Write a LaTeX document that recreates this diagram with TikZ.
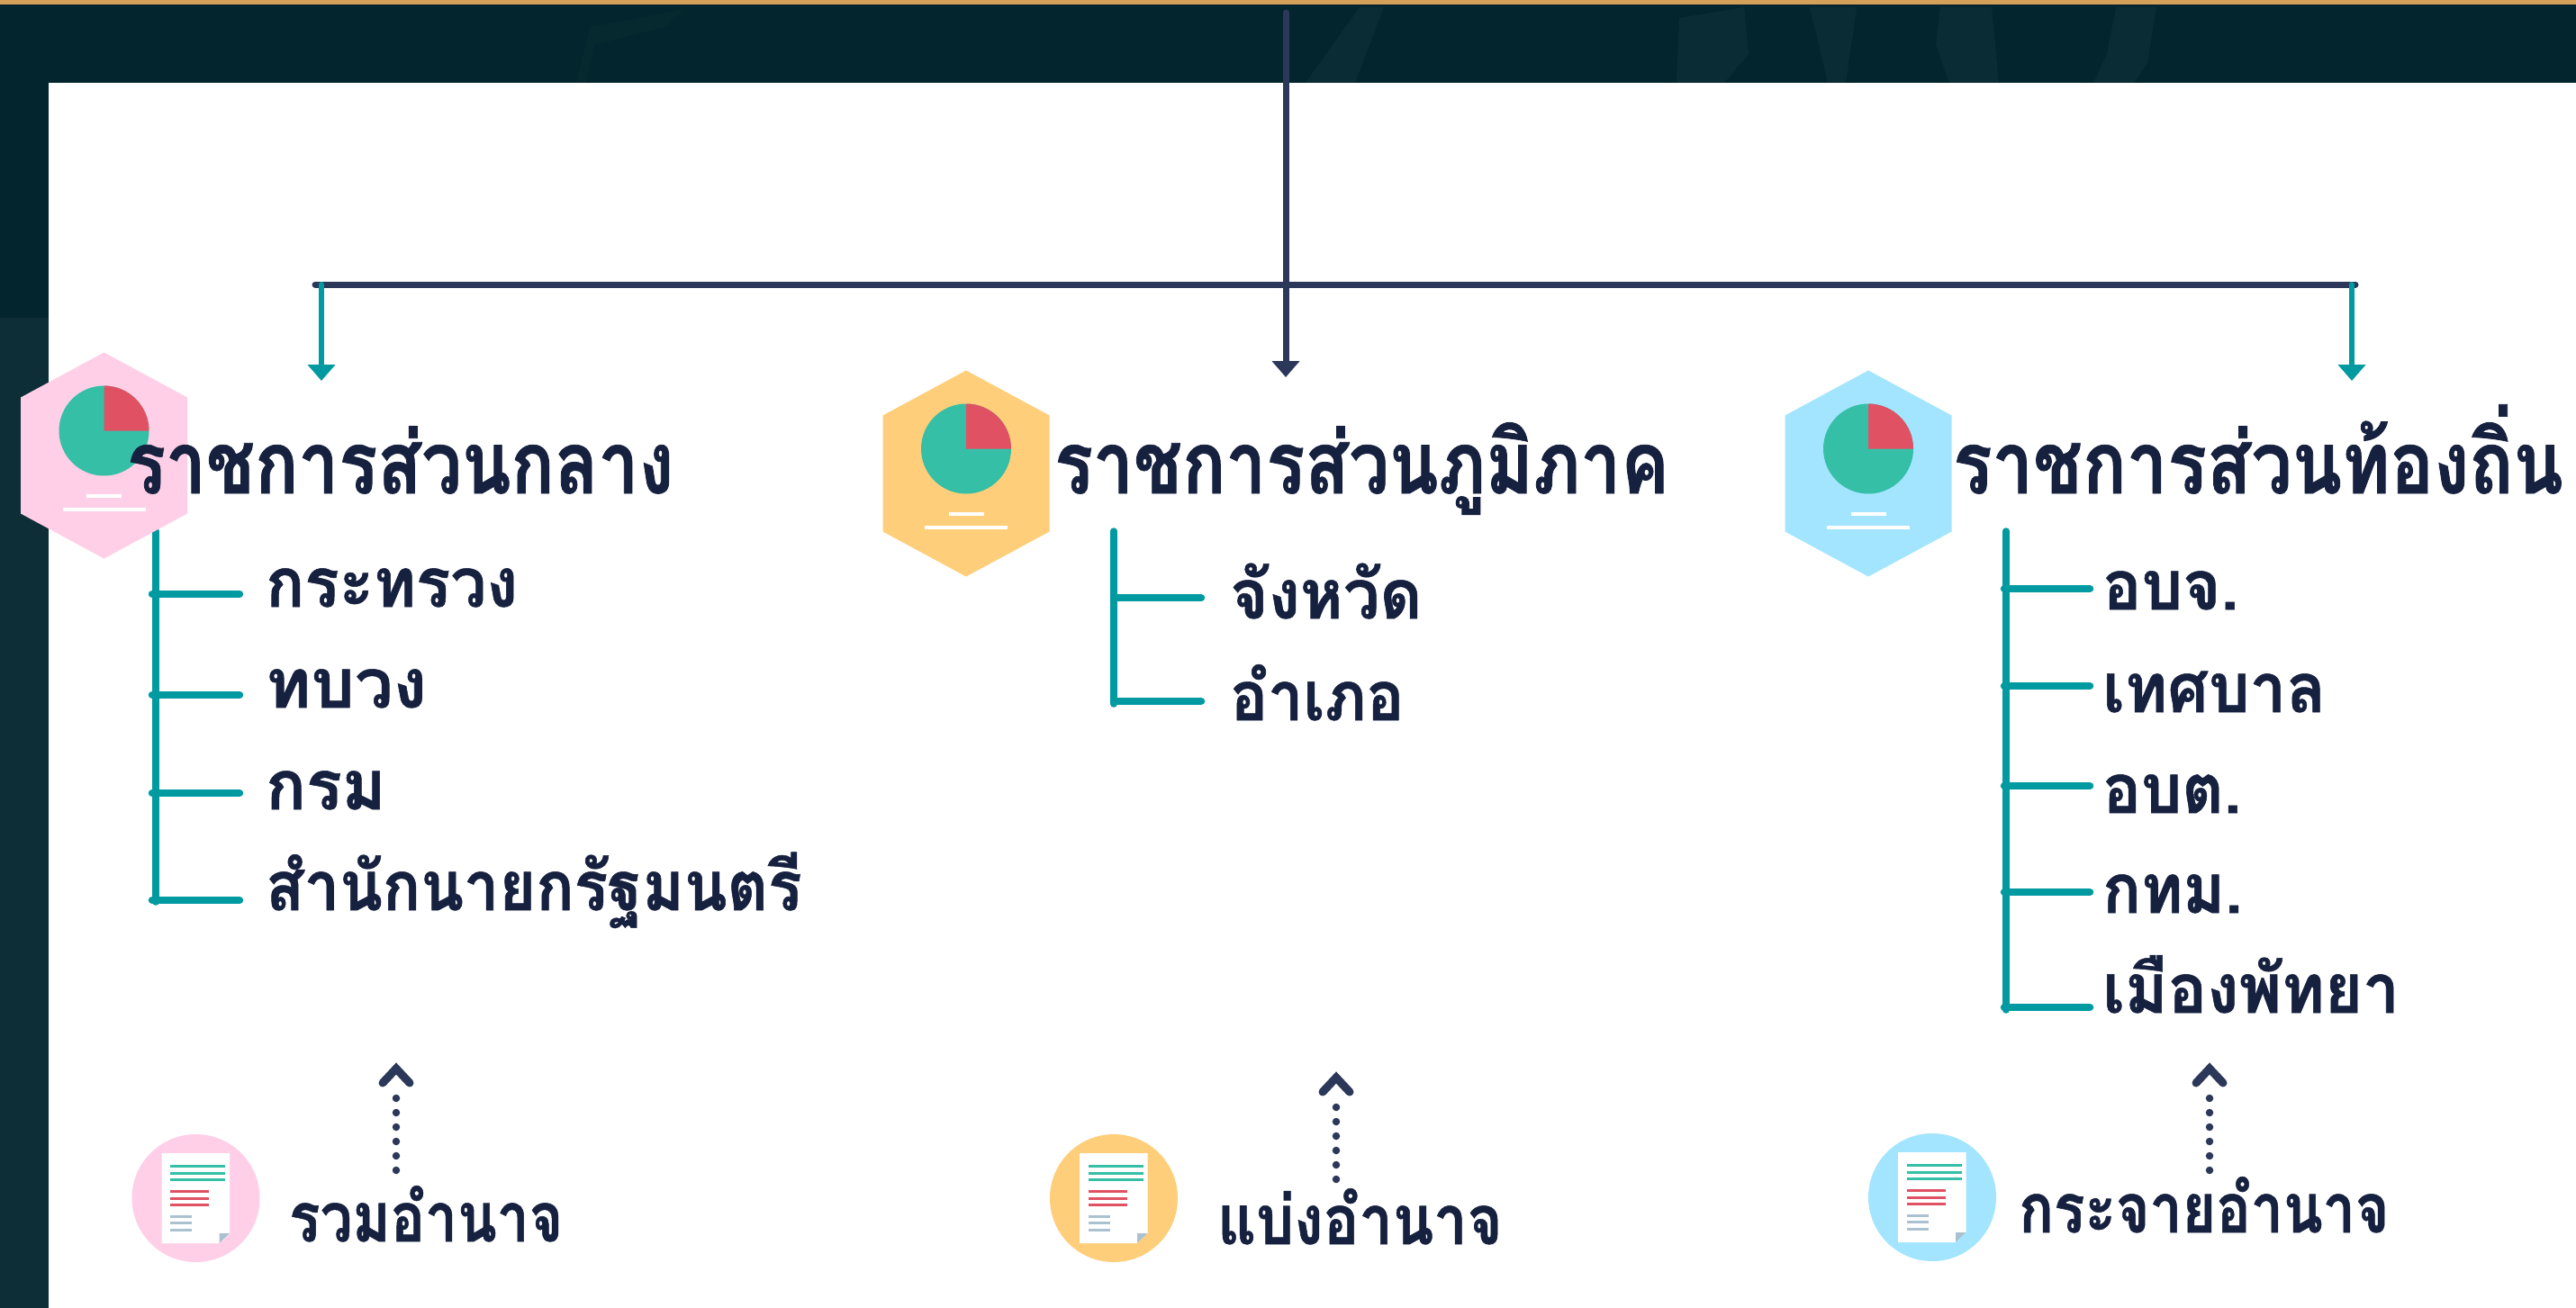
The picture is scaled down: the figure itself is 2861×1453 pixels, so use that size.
\documentclass[tikz,border=0pt]{standalone}
\usepackage{fontspec}
\usepackage{graphicx}
\usetikzlibrary{arrows.meta}
\newfontfamily\thaititle[Script=Thai,FakeStretch=0.832,FakeBold=0.8]{Loma Bold}
\newfontfamily\thaisub[Script=Thai,FakeStretch=0.92,FakeBold=0.7]{Loma Bold}
\definecolor{hdr}{HTML}{02252E}
\definecolor{hdrb}{HTML}{0D2E36}
\definecolor{smudge}{HTML}{0A2C35}
\definecolor{smudgel}{HTML}{06282F}
\definecolor{gold}{HTML}{D4A05A}
\definecolor{ink}{HTML}{16213F}
\definecolor{tealc}{HTML}{009AA0}
\definecolor{navy}{HTML}{2C3859}
\definecolor{pinkc}{HTML}{FFCFE7}
\definecolor{orangec}{HTML}{FFCE7A}
\definecolor{bluec}{HTML}{A3E5FF}
\definecolor{greenc}{HTML}{34BFA6}
\definecolor{redc}{HTML}{E05263}
\definecolor{grayc}{HTML}{AAC2D0}
\tikzset{
 titletext/.style={anchor=base west,inner sep=0pt,text=ink,font=\thaititle\fontsize{96}{96}\selectfont},
 subtext/.style={anchor=base west,inner sep=0pt,text=ink,font=\thaisub\fontsize{76}{76}\selectfont},
 trunk/.style={draw=tealc,line width=7.5pt,line cap=round},
 branch/.style={draw=tealc,line width=8.5pt,line cap=round},
 mainline/.style={draw=navy,line width=7pt,line cap=round},
 dropteal/.style={draw=tealc,line width=6pt,line cap=round,-{Triangle[length=18pt,width=30pt]}},
 dropnavy/.style={draw=navy,line width=7pt,line cap=round,-{Triangle[length=18pt,width=30pt]}},
 dotline/.style={draw=navy,line width=8.5pt,line cap=round,dash pattern=on 0pt off 16pt},
 chevron/.style={draw=navy,line width=9pt,line cap=round,line join=miter},
}
\newcommand{\hs}[2]{\scalebox{#1}[1]{#2}}
% hexagon badge with pie: centre x, centre y, colour
\newcommand{\hexbadge}[3]{%
 \fill[#3] (#1,#2-114.5)--(#1+92.5,#2-64.5)--(#1+92.5,#2+64.5)--(#1,#2+114.5)--(#1-92.5,#2+64.5)--(#1-92.5,#2-64.5)--cycle;
 \fill[greenc] (#1,#2-27.5) circle[radius=50];
 \fill[redc] (#1,#2-27.5)--(#1,#2-77.5) arc[start angle=-90,end angle=0,radius=50] --cycle;
 \fill[white] (#1-19.5,#2+43) rectangle (#1+19.5,#2+47);
 \fill[white] (#1-46,#2+57.5) rectangle (#1+46,#2+61.5);
}
% document badge: centre x, centre y, colour
\newcommand{\docbadge}[3]{%
 \fill[#3] (#1,#2) circle[radius=71];
 \fill[white] (#1-38,#2-50)--(#1+37.5,#2-50)--(#1+37.5,#2+39)--(#1+26,#2+50)--(#1-38,#2+50)--cycle;
 \fill[grayc] (#1+26,#2+39)--(#1+37.5,#2+39)--(#1+26,#2+50)--cycle;
 \foreach \yy in {-36,-28,-21}{\fill[greenc] (#1-28.5,#2+\yy-1.5) rectangle (#1+32.5,#2+\yy+1.5);}
 \foreach \yy in {-8,0,7}{\fill[redc] (#1-28.5,#2+\yy-1.5) rectangle (#1+14.5,#2+\yy+1.5);}
 \foreach \yy in {20,27,35}{\fill[grayc] (#1-28.5,#2+\yy-1.5) rectangle (#1-4.5,#2+\yy+1.5);}
}
\begin{document}
\begin{tikzpicture}[x=1pt,y=-1pt]
\useasboundingbox (0,0) rectangle (2861,1453);
% background
\fill[hdr] (0,0) rectangle (2861,1453);
\fill[gold] (0,0) rectangle (2861,5);
% faint texture in the header
\fill[smudgel] (640,92)--(655,30)--(760,10)--(740,30)--(660,50)--(650,92)--cycle;
\fill[smudge] (1450,92)--(1510,8)--(1537,8)--(1505,92)--cycle;
\fill[smudge] (1862,92)--(1865,20)--(1937,8)--(1942,60)--(1915,92)--cycle;
\fill[smudge] (2010,8)--(2062,8)--(2050,92)--(2030,92)--cycle;
\fill[smudge] (2150,50)--(2155,8)--(2212,8)--(2220,92)--(2165,92)--cycle;
\fill[smudge] (2325,92)--(2340,60)--(2350,8)--(2395,8)--(2385,70)--(2370,92)--cycle;
\fill[white] (54,92) rectangle (2861,1453);
\fill[hdrb] (0,353) rectangle (54,1453);

% connectors of the top tree
\coordinate (top) at (1428,14);
\coordinate (barL) at (350,316);
\coordinate (barR) at (2616,316);
\coordinate (dropL) at (357,316);
\coordinate (dropR) at (2612,316);
\coordinate (tipL) at (357,423);
\coordinate (tipM) at (1428,419);
\coordinate (tipR) at (2612,423);
\draw[mainline] (barL) -- (barR);
\draw[dropnavy] (top) -- (tipM);
\draw[dropteal] (dropL) -- (tipL);
\draw[dropteal] (dropR) -- (tipR);

% left column
\coordinate (tL0) at (173,590);
\coordinate (tL1) at (173,1002);
\draw[trunk] (tL0) -- (tL1);
\foreach \nm/\yy in {a/660,b/772,c/881,d/1000}{
 \coordinate (L\nm0) at (169,\yy);
 \coordinate (L\nm1) at (266,\yy);
 \draw[branch] (L\nm0) -- (L\nm1);
}
\hexbadge{115.5}{506}{pinkc}
\node[titletext] (titleL) at (141,548) {ราชการส่วนกลาง};
\node[subtext] (l1) at (295,674) {\hs{1.02}{กระทรวง}};
\node[subtext] (l2) at (295,786) {\hs{1.09}{ทบวง}};
\node[subtext] (l3) at (295,899) {\hs{1.06}{กรม}};
\node[subtext] (l4) at (295,1011) {\hs{1.0}{สำนักนายกรัฐมนตรี}};

% middle column
\coordinate (tM0) at (1237,590);
\coordinate (tM1) at (1237,782);
\draw[trunk] (tM0) -- (tM1);
\foreach \nm/\yy in {a/664,b/779}{
 \coordinate (M\nm0) at (1237,\yy);
 \coordinate (M\nm1) at (1334,\yy);
 \draw[branch] (M\nm0) -- (M\nm1);
}
\hexbadge{1073}{526}{orangec}
\node[titletext] (titleM) at (1171,548) {ราชการส่วนภูมิภาค};
\node[subtext] (m1) at (1366,687) {\hs{1.036}{จังหวัด}};
\node[subtext] (m2) at (1366,800) {อำเภอ};

% right column
\coordinate (tR0) at (2228,590);
\coordinate (tR1) at (2228,1122);
\draw[trunk] (tR0) -- (tR1);
\foreach \nm/\yy in {a/654,b/762,c/873,d/991,e/1119}{
 \coordinate (R\nm0) at (2226,\yy);
 \coordinate (R\nm1) at (2321,\yy);
 \draw[branch] (R\nm0) -- (R\nm1);
}
\hexbadge{2075}{526}{bluec}
\node[titletext] (titleR) at (2169,548) {\hs{1.013}{ราชการส่วนท้องถิ่น}};
\node[subtext] (r1) at (2335,677) {\hs{1.03}{อบจ.}};
\node[subtext] (r2) at (2335,791) {\hs{1.03}{เทศบาล}};
\node[subtext] (r3) at (2335,903) {\hs{1.02}{อบต.}};
\node[subtext] (r4) at (2335,1014) {\hs{1.01}{กทม.}};
\node[subtext] (r5) at (2335,1125) {\hs{1.035}{เมืองพัทยา}};

% bottom row
\docbadge{217.5}{1331}{pinkc}
\docbadge{1237}{1331}{orangec}
\docbadge{2146}{1330}{bluec}
\node[subtext] (b1) at (321,1379) {\hs{.915}{รวมอำนาจ}};
\node[subtext] (b2) at (1352,1382) {\hs{.95}{แบ่งอำนาจ}};
\node[subtext] (b3) at (2242,1369) {\hs{.918}{กระจายอำนาจ}};
\foreach \nm/\xx/\yy in {p/440/1182,q/1484/1192,s/2454/1182}{
 \coordinate (\nm0) at (\xx,\yy+118);
 \coordinate (\nm1) at (\xx,\yy+22);
 \draw[dotline] (\nm0) -- (\nm1);
 \draw[chevron] (\xx-15,\yy+21) -- (\xx,\yy+5) -- (\xx+15,\yy+21);
}
\end{tikzpicture}
\end{document}
